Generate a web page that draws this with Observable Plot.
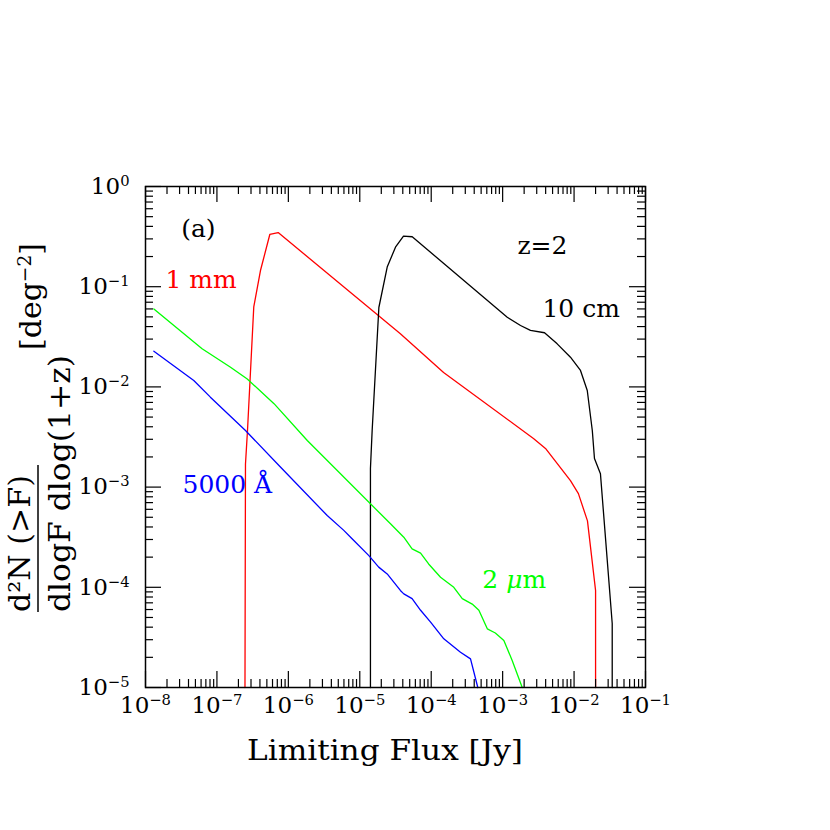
<!DOCTYPE html>
<html>
<head>
<meta charset="utf-8">
<script src="https://cdn.jsdelivr.net/npm/d3@7"></script>
<script src="https://cdn.jsdelivr.net/npm/@observablehq/plot@0.6"></script>
<style>
  html, body { margin: 0; padding: 0; background: #fff; }
</style>
</head>
<body>
<div id="chart"></div>
<script>
// ---------- data ----------
const mm1Flux = [2.47e-7, 2.51e-7, 2.68e-7, 3.28e-7, 4.07e-7, 5.5e-7, 7.2e-7, 3.7e-5, 1.49e-4, 2.7e-3, 3.98e-3, 8.9e-3, 1.15e-2, 1.54e-2, 2.0e-2, 2.0e-2];
const mm1N    = [1e-5, 1.7e-3, 3.7e-3, 6.3e-2, 0.145, 0.332, 0.347, 0.034, 1.39e-2, 3.06e-3, 2.43e-3, 1.16e-3, 8.6e-4, 4.6e-4, 9.3e-5, 1e-5];

const cm10Flux = [1.41e-5, 1.41e-5, 1.49e-5, 1.85e-5, 2.42e-5, 3.16e-5, 4.09e-5, 5.42e-5, 1.16e-3, 1.78e-3, 2.45e-3, 3.86e-3, 5.8e-3, 8.9e-3, 1.23e-2, 1.53e-2, 1.80e-2, 1.93e-2, 2.34e-2, 3.42e-2, 3.42e-2];
const cm10N    = [1e-5, 1.53e-3, 3.67e-3, 6.2e-2, 0.157, 0.248, 0.319, 0.315, 0.0496, 0.041, 0.0366, 0.0347, 0.0269, 0.0198, 0.0146, 9.2e-3, 3.67e-3, 1.93e-3, 1.36e-3, 4.35e-5, 1e-5];

const um2Flux = [1.31e-8, 6.2e-8, 1.55e-7, 2.66e-7, 6.3e-7, 1.84e-6, 2.69e-5, 4.13e-5, 5.4e-5, 7.1e-5, 9.2e-5, 1.35e-4, 2.07e-4, 2.72e-4, 3.75e-4, 4.65e-4, 6.1e-4, 7.9e-4, 1.04e-3, 1.36e-3, 1.88e-3];
const um2N    = [0.060, 0.024, 0.0157, 0.0120, 6.8e-3, 2.92e-3, 4.3e-4, 3.16e-4, 2.42e-4, 2.19e-4, 1.71e-4, 1.26e-4, 1.0e-4, 7.7e-5, 6.8e-5, 5.9e-5, 3.85e-5, 3.5e-5, 2.95e-5, 1.86e-5, 1e-5];

const aa5000Flux = [1.31e-8, 4.74e-8, 8.1e-8, 2.51e-7, 7.8e-7, 3.5e-6, 5.97e-6, 7.8e-6, 1.34e-5, 1.84e-5, 2.42e-5, 3.7e-5, 4.13e-5, 5.4e-5, 7.1e-5, 9.8e-5, 1.5e-4, 2.57e-4, 3.55e-4, 4.49e-4];
const aa5000N    = [0.0227, 0.0116, 7.9e-3, 3.67e-3, 1.58e-3, 5.2e-4, 3.7e-4, 3.05e-4, 2.07e-4, 1.59e-4, 1.36e-4, 9.3e-5, 8.6e-5, 7.7e-5, 5.9e-5, 4.5e-5, 3.06e-5, 2.25e-5, 1.93e-5, 1e-5];

const xTickValues = [1e-8, 1e-7, 1e-6, 1e-5, 1e-4, 1e-3, 1e-2, 1e-1];
const yTickValues = [1e-5, 1e-4, 1e-3, 1e-2, 1e-1, 1e0];

const labelText  = ["(a)", "1 mm", "z=2", "10 cm", "5000 Å", "2 μm"];
const labelFlux  = [5.5e-8, 1.9e-8, 1.61e-3, 3.61e-3, 3.3e-8, 5.2e-4];
const labelN     = [0.31, 0.098, 0.21, 0.0504, 8.8e-4, 9.95e-5];
const labelColor = ["black", "red", "black", "black", "blue", "#00ff00"];

// ---------- build tables ----------
const toRows = (xs, ys) => xs.map((x, i) => ({x, y: ys[i]}));
const series = [
  {rows: toRows(mm1Flux, mm1N), color: "red"},
  {rows: toRows(cm10Flux, cm10N), color: "black"},
  {rows: toRows(um2Flux, um2N), color: "#00ff00"},
  {rows: toRows(aa5000Flux, aa5000N), color: "blue"}
];
const labels = labelText.map((t, i) => ({t, x: labelFlux[i], y: labelN[i], c: labelColor[i]}));

const minors = (lo, hi) => {
  const out = [];
  for (let e = lo; e < hi; e++) for (let m = 2; m <= 9; m++) out.push(m * Math.pow(10, e));
  return out;
};
const xMinor = minors(-8, -1);
const yMinor = minors(-5, 0);

// tick labels as "10^exp" -> rebuilt with a raised tspan afterwards
const fmt = d => "10^" + String(Math.round(Math.log10(d))).replace("-", "\u2212");

const W = 830, H = 830;
const mL = 145, mR = 185, mT = 186, mB = 143;
const fw = W - mL - mR, fh = H - mT - mB;
const majorLen = 16, minorLen = 8;
const tickStyle = {stroke: "black", strokeWidth: 1.2};

const plot = Plot.plot({
  width: W, height: H,
  marginLeft: mL, marginRight: mR, marginTop: mT, marginBottom: mB,
  style: {fontFamily: "DejaVu Serif", fontSize: "23px", background: "white", color: "black"},
  x: {type: "log", domain: [1e-8, 1e-1], ticks: xTickValues, tickFormat: fmt, tickSize: 0, tickPadding: 9, label: null},
  y: {type: "log", domain: [1e-5, 1], ticks: yTickValues, tickFormat: fmt, tickSize: 0, tickPadding: 16, label: null},
  marks: [
    // curves
    ...series.map(s => Plot.line(s.rows, {x: "x", y: "y", stroke: s.color, strokeWidth: 1.3})),
    // ticks: bottom / top
    Plot.tickX(xTickValues, {x: d => d, insetTop: fh - majorLen, ...tickStyle}),
    Plot.tickX(xTickValues, {x: d => d, insetBottom: fh - majorLen, ...tickStyle}),
    Plot.tickX(xMinor, {x: d => d, insetTop: fh - minorLen, ...tickStyle}),
    Plot.tickX(xMinor, {x: d => d, insetBottom: fh - minorLen, ...tickStyle}),
    // ticks: left / right
    Plot.tickY(yTickValues, {y: d => d, insetRight: fw - majorLen, ...tickStyle}),
    Plot.tickY(yTickValues, {y: d => d, insetLeft: fw - majorLen, ...tickStyle}),
    Plot.tickY(yMinor, {y: d => d, insetRight: fw - minorLen, ...tickStyle}),
    Plot.tickY(yMinor, {y: d => d, insetLeft: fw - minorLen, ...tickStyle}),
    Plot.frame({stroke: "black", strokeWidth: 1.5}),
    // annotations
    Plot.text(labels, {x: "x", y: "y", text: "t", fill: "c", fontSize: 25, textAnchor: "start", lineAnchor: "bottom"})
  ]
});

const svg = d3.select(plot);

// superscript exponents in tick labels
svg.selectAll("text").filter(function() { return /^10\^/.test(this.textContent); })
  .each(function() {
    const t = d3.select(this);
    const exp = this.textContent.slice(3);
    t.text("");
    t.attr("font-size", 23);
    t.append("tspan").text("10");
    t.append("tspan").attr("font-size", "0.64em").attr("dy", "-0.55em").text(exp);
  });

// "(a)" is centered
svg.selectAll("text").filter(function() { return this.textContent === "(a)"; })
  .attr("text-anchor", "middle");
// italic mu in "2 μm"
svg.selectAll("text").filter(function() { return this.textContent === "2 μm"; })
  .each(function() {
    const t = d3.select(this);
    t.text("");
    t.append("tspan").text("2 ");
    t.append("tspan").attr("font-style", "italic").text("μ");
    t.append("tspan").text("m");
  });

// axis titles
const g = svg.append("g").attr("font-family", "DejaVu Serif").attr("fill", "black").attr("text-anchor", "start");
g.append("text")
  .attr("x", 385).attr("y", 760)
  .attr("text-anchor", "middle")
  .attr("font-size", 28)
  .attr("textLength", 276).attr("lengthAdjust", "spacingAndGlyphs")
  .text("Limiting Flux [Jy]");

// y title as a stacked fraction
g.append("text")
  .attr("transform", "translate(30,612) rotate(-90)")
  .attr("font-size", 30)
  .attr("textLength", 137).attr("lengthAdjust", "spacingAndGlyphs")
  .text("d²N (>F)");
g.append("line")
  .attr("x1", 38).attr("x2", 38).attr("y1", 465).attr("y2", 612)
  .attr("stroke", "black").attr("stroke-width", 1.5);
g.append("text")
  .attr("transform", "translate(70,612) rotate(-90)")
  .attr("font-size", 30)
  .attr("textLength", 257).attr("lengthAdjust", "spacingAndGlyphs")
  .text("dlogF dlog(1+z)");
const deg = g.append("text")
  .attr("transform", "translate(41,350) rotate(-90)")
  .attr("font-size", 30);
deg.append("tspan").text("[deg");
deg.append("tspan").attr("font-size", "0.62em").attr("dy", "-0.55em").text("\u22122");
deg.append("tspan").attr("dy", "0.34em").text("]");

document.getElementById("chart").appendChild(plot);
</script>
</body>
</html>
